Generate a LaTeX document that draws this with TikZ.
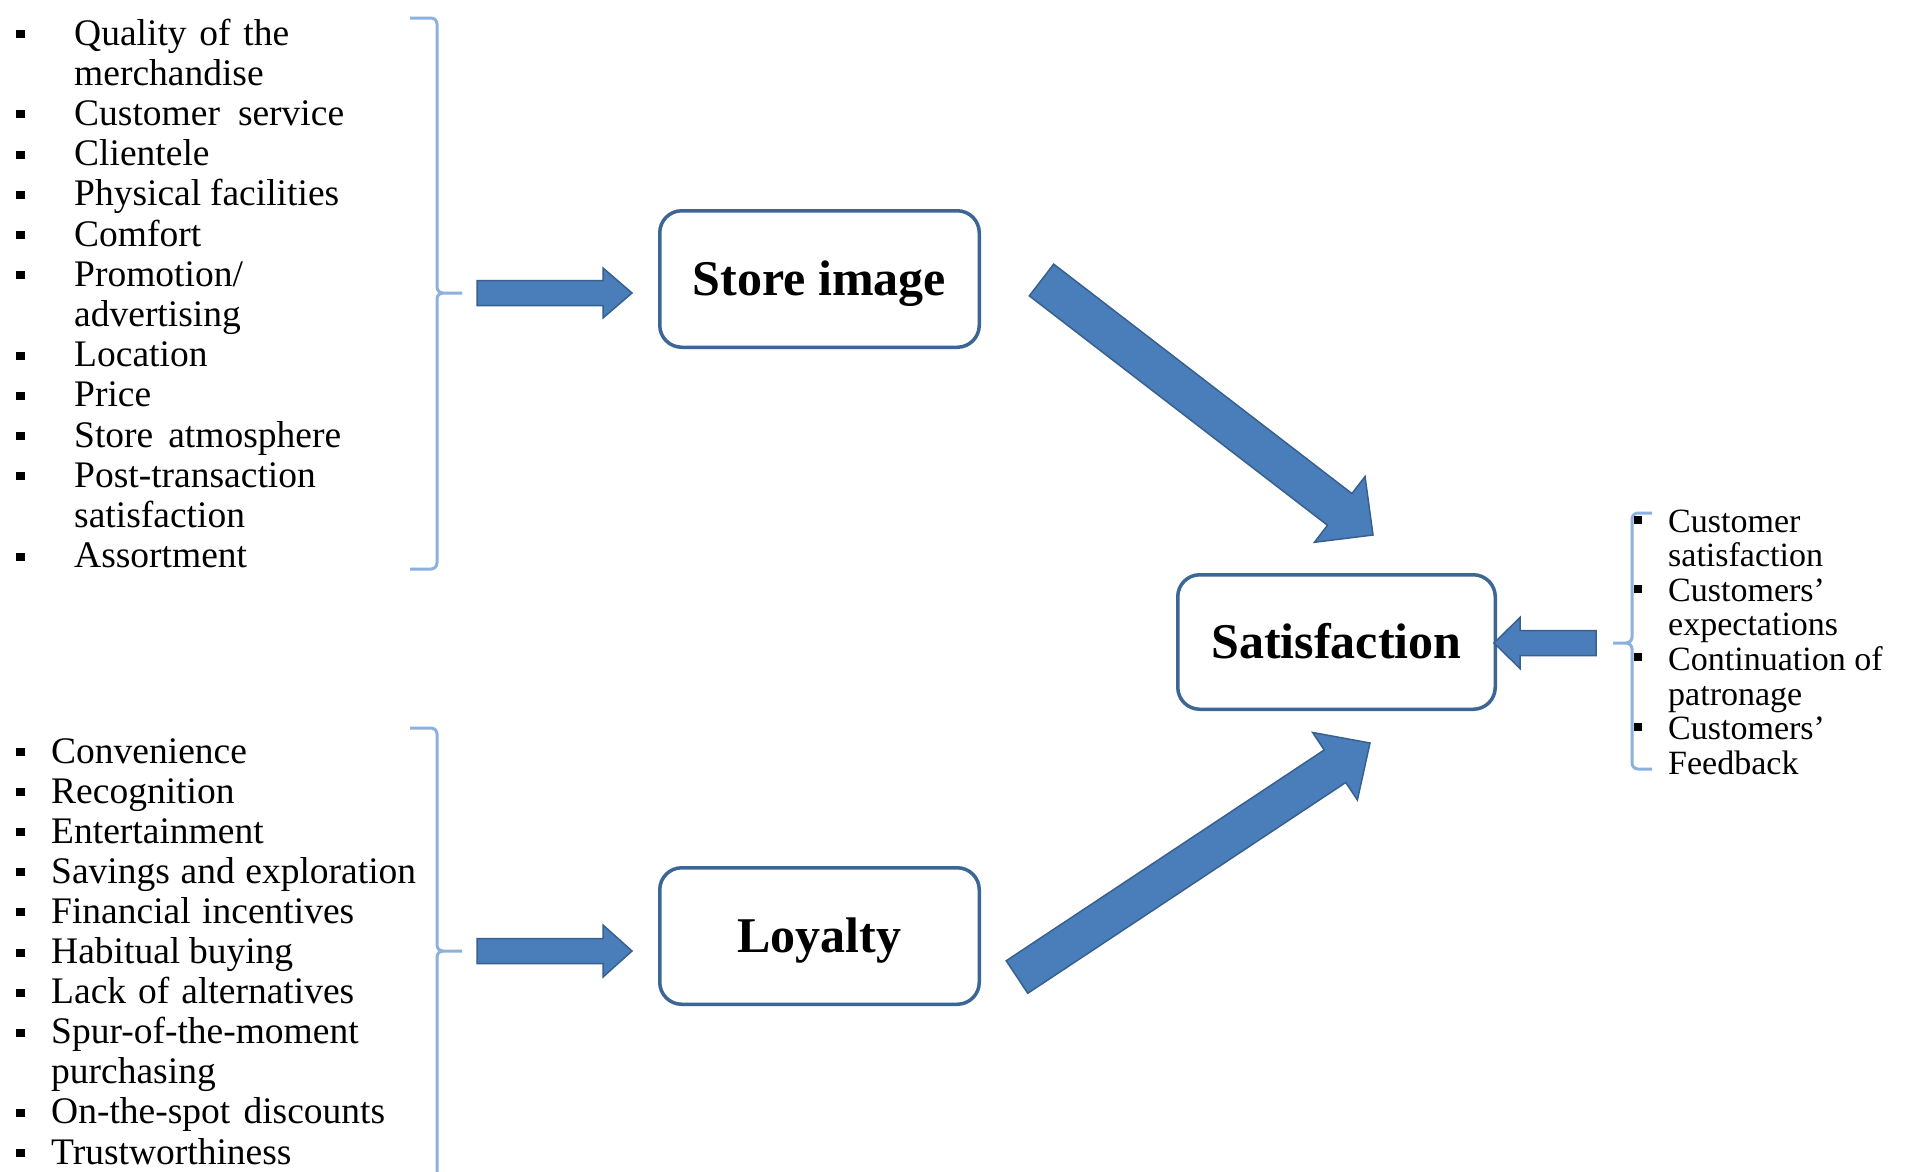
\documentclass[tikz,border=0pt]{standalone}
\usepackage{fontspec}
\setmainfont{Liberation Serif}
\usetikzlibrary{calc}
\definecolor{arrowfill}{HTML}{4A7EBB}
\definecolor{arrowdraw}{HTML}{38608F}
\definecolor{boxblue}{HTML}{3C6696}
\definecolor{bracecol}{HTML}{8DB1DE}
% #1 prefix, #2 tail, #3 tip, #4 shaft half width, #5 head half width, #6 head length
\newcommand{\blockarr}[6]{%
  \coordinate (#1h) at ($(#3)!#6!(#2)$);
  \draw[barrow] ($(#2)!#4!90:(#3)$) -- ($(#1h)!#4!90:(#3)$) -- ($(#1h)!#5!90:(#3)$) -- (#3)
    -- ($(#1h)!#5!-90:(#3)$) -- ($(#1h)!#4!-90:(#3)$) -- ($(#2)!#4!-90:(#3)$) -- cycle;
}
\begin{document}
\begin{tikzpicture}[x=1pt,y=-1pt,
  lt/.style={anchor=base west, inner sep=0pt, font=\fontsize{37.5}{40}\selectfont},
  rt/.style={anchor=base west, inner sep=0pt, font=\fontsize{34}{36}\selectfont},
  bul/.style={fill=black, minimum width=9pt, minimum height=8pt, inner sep=0pt},
  rbul/.style={fill=black, minimum width=7.5pt, minimum height=7.5pt, inner sep=0pt},
  mainbox/.style={draw=boxblue, line width=3.5pt, rounded corners=22pt, fill=white,
    font=\bfseries\fontsize{50}{55}\selectfont, inner sep=0pt, text height=32pt, text depth=0pt},
  barrow/.style={fill=arrowfill, draw=arrowdraw, line width=1.5pt, line join=miter},
  bracestyle/.style={draw=bracecol, line width=3pt}]
\useasboundingbox (0,0) rectangle (1905,1171);
\fill[white] (0,0) rectangle (1905,1171);
\clip (0,0) rectangle (1905,1171);

% boxes
\node[mainbox, minimum width=319.5pt, minimum height=136.5pt] (store) at (819.5,279) {Store image};
\node[mainbox, minimum width=319.5pt, minimum height=136.5pt] (loyal) at (819.5,936) {Loyalty};
\node[mainbox, minimum width=317.5pt, minimum height=134.5pt] (satis) at (1336.5,642) {Satisfaction};

% top list
\node[lt] (t1) at (74,45) {\makebox[215pt][s]{Quality of the}};
\node[lt] (t2) at (74,85.2) {merchandise};
\node[lt] (t3) at (74,125.4) {\makebox[270pt][s]{Customer service}};
\node[lt] (t4) at (74,165.6) {Clientele};
\node[lt] (t5) at (74,205.8) {\makebox[265pt][s]{Physical facilities}};
\node[lt] (t6) at (74,246) {Comfort};
\node[lt] (t7) at (74,286.2) {Promotion/};
\node[lt] (t8) at (74,326.4) {advertising};
\node[lt] (t9) at (74,366.6) {Location};
\node[lt] (t10) at (74,406.8) {Price};
\node[lt] (t11) at (74,447) {\makebox[267pt][s]{Store atmosphere}};
\node[lt] (t12) at (74,487.2) {Post-transaction};
\node[lt] (t13) at (74,527.4) {satisfaction};
\node[lt] (t14) at (74,567.6) {Assortment};
\foreach \yy [count=\i] in {45,125.4,165.6,205.8,246,286.2,366.6,406.8,447,487.2,567.6}
  \node[bul] (tb\i) at (20.5,\yy-11) {};

% bottom list
\node[lt] (u1) at (51,763) {Convenience};
\node[lt] (u2) at (51,803.1) {Recognition};
\node[lt] (u3) at (51,843.2) {Entertainment};
\node[lt] (u4) at (51,883.3) {\makebox[365pt][s]{Savings and exploration}};
\node[lt] (u5) at (51,923.4) {\makebox[303pt][s]{Financial incentives}};
\node[lt] (u6) at (51,963.5) {\makebox[242pt][s]{Habitual buying}};
\node[lt] (u7) at (51,1003.6) {\makebox[303pt][s]{Lack of alternatives}};
\node[lt] (u8) at (51,1043.7) {Spur-of-the-moment};
\node[lt] (u9) at (51,1083.8) {purchasing};
\node[lt] (u10) at (51,1123.9) {\makebox[334pt][s]{On-the-spot discounts}};
\node[lt] (u11) at (51,1164) {Trustworthiness};
\foreach \yy [count=\i] in {763,803.1,843.2,883.3,923.4,963.5,1003.6,1043.7,1123.9,1164}
  \node[bul] (ub\i) at (20.5,\yy-11) {};

% right list
\node[rt] (r1) at (1668,532) {Customer};
\node[rt] (r2) at (1668,566.6) {satisfaction};
\node[rt] (r3) at (1668,601.2) {Customers’};
\node[rt] (r4) at (1668,635.8) {expectations};
\node[rt] (r5) at (1668,670.4) {Continuation of};
\node[rt] (r6) at (1668,705) {patronage};
\node[rt] (r7) at (1668,739.6) {Customers’};
\node[rt] (r8) at (1668,774.2) {Feedback};

% braces
\draw[bracestyle] (410,18) -- (431,18) to[out=0,in=90] (437,24) -- (437,287)
  to[out=-90,in=180] (443,293) -- (462,293);
\draw[bracestyle] (443,293) to[out=180,in=90] (437,299) -- (437,563)
  to[out=-90,in=0] (431,569) -- (410,569);
\draw[bracestyle] (410,728) -- (431,728) to[out=0,in=90] (437,734) -- (437,945)
  to[out=-90,in=180] (443,951) -- (462,951);
\draw[bracestyle] (443,951) to[out=180,in=90] (437,957) -- (437,1180);
\draw[bracestyle] (1652,513) -- (1638,513) to[out=180,in=90] (1632,519) -- (1632,637)
  to[out=-90,in=0] (1626,643) -- (1613,643);
\draw[bracestyle] (1626,643) to[out=0,in=90] (1632,649) -- (1632,763)
  to[out=-90,in=180] (1638,769) -- (1652,769);
\foreach \yy [count=\i] in {520,589,657,727}
  \node[rbul] (rb\i) at (1638,\yy) {};

% block arrows
\coordinate (a1t) at (477,293);  \coordinate (a1h) at (632,293);
\blockarr{aa}{a1t}{a1h}{12.5pt}{25pt}{29pt}
\coordinate (a2t) at (477,951);  \coordinate (a2h) at (632,951);
\blockarr{ab}{a2t}{a2h}{12.5pt}{26pt}{29pt}
\coordinate (a3t) at (1041.5,280); \coordinate (a3h) at (1373,535);
\blockarr{ac}{a3t}{a3h}{20pt}{41.5pt}{42pt}
\coordinate (a4t) at (1017,977); \coordinate (a4h) at (1370,743);
\blockarr{ad}{a4t}{a4h}{19.5pt}{40.5pt}{42pt}
\coordinate (a5t) at (1596,643); \coordinate (a5h) at (1494,643);
\blockarr{ae}{a5t}{a5h}{12.5pt}{25.5pt}{26pt}
\end{tikzpicture}
\end{document}
